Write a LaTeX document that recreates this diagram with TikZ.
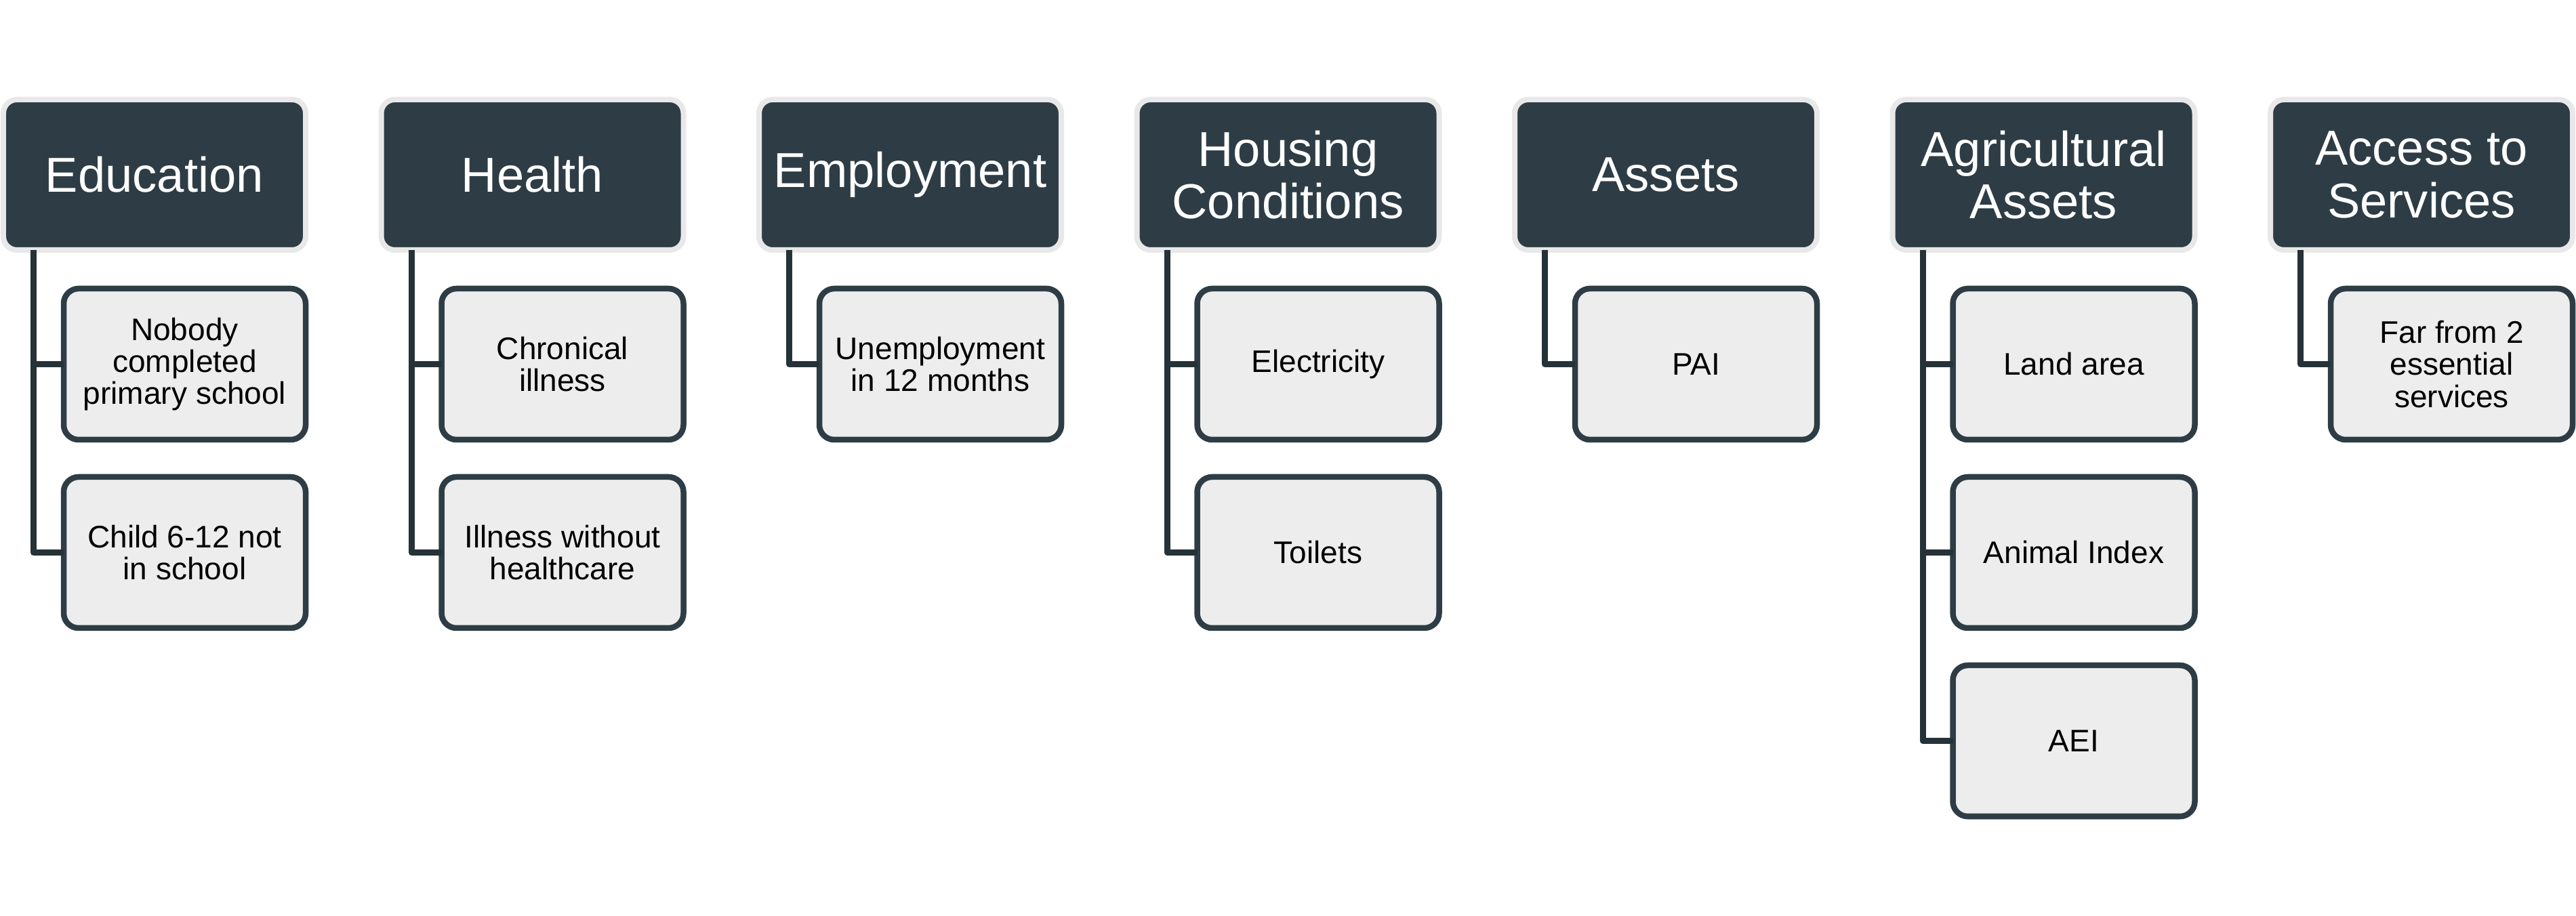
\documentclass[tikz,border=0pt]{standalone}
\usepackage{fontspec}
\setmainfont{Liberation Sans}
\usetikzlibrary{positioning}
\definecolor{slate}{HTML}{2E3D45}
\definecolor{slatedark}{HTML}{253238}
\definecolor{paleline}{HTML}{E8E8E8}
\definecolor{palefill}{HTML}{EDEDED}

\begin{document}
\begin{tikzpicture}[
                  head/.style={draw=paleline, line width=0.08cm, fill=slate, rounded corners=0.2cm,
                               text=white, font=\fontsize{20.6}{22}\selectfont, align=center,
                               minimum width=4.46cm, minimum height=2.22cm, inner sep=0pt},
                  item/.style={draw=slate, line width=0.085cm, fill=palefill, rounded corners=0.22cm,
                               font=\fontsize{13.1}{13.4}\selectfont, align=center,
                               minimum width=3.57cm, minimum height=2.23cm, inner sep=0pt},
                  link/.style={draw=slatedark, line width=0.09cm, line join=round},
                  node distance=0.55cm and 1.115cm,
                  every node/.append style={outer sep=0pt},
            ]
            \useasboundingbox (0,0) rectangle (38.01,-13.52);

            % Top row: dimensions
            \node[head] (edu) at (2.28,-2.58) {Education};
            \node[head, right=of edu] (hlth) {Health};
            \node[head, right=of hlth] (emp) {Employment};
            \node[head, right=of emp] (hous) {Housing\\Conditions};
            \node[head, right=of hous] (asset) {Assets};
            \node[head, right=of asset] (agri) {Agricultural\\Assets};
            \node[head, right=of agri] (serv) {Access to\\Services};

            % Indicators under each dimension
            \node[item, below left=0.57cm and 0cm of edu.south east] (edu1) {Nobody\\completed\\primary school};
            \node[item, below=of edu1] (edu2) {Child 6-12 not\\in school};

            \node[item, below left=0.57cm and 0cm of hlth.south east] (hlth1) {Chronical\\illness};
            \node[item, below=of hlth1] (hlth2) {Illness without\\healthcare};

            \node[item, below left=0.57cm and 0cm of emp.south east] (emp1) {Unemployment\\in 12 months};

            \node[item, below left=0.57cm and 0cm of hous.south east] (hous1) {Electricity};
            \node[item, below=of hous1] (hous2) {Toilets};

            \node[item, below left=0.57cm and 0cm of asset.south east] (asset1) {PAI};

            \node[item, below left=0.57cm and 0cm of agri.south east] (agri1) {Land area};
            \node[item, below=of agri1] (agri2) {Animal Index};
            \node[item, below=of agri2] (agri3) {AEI};

            \node[item, below left=0.57cm and 0cm of serv.south east] (serv1) {Far from 2\\essential\\services};

            % Connectors
            \draw[link] ([xshift=0.445cm]edu.south west) |- (edu1.west);
            \draw[link] ([xshift=0.445cm]edu.south west) |- (edu2.west);
            \draw[link] ([xshift=0.445cm]hlth.south west) |- (hlth1.west);
            \draw[link] ([xshift=0.445cm]hlth.south west) |- (hlth2.west);
            \draw[link] ([xshift=0.445cm]emp.south west) |- (emp1.west);
            \draw[link] ([xshift=0.445cm]hous.south west) |- (hous1.west);
            \draw[link] ([xshift=0.445cm]hous.south west) |- (hous2.west);
            \draw[link] ([xshift=0.445cm]asset.south west) |- (asset1.west);
            \draw[link] ([xshift=0.445cm]agri.south west) |- (agri1.west);
            \draw[link] ([xshift=0.445cm]agri.south west) |- (agri2.west);
            \draw[link] ([xshift=0.445cm]agri.south west) |- (agri3.west);
            \draw[link] ([xshift=0.445cm]serv.south west) |- (serv1.west);

      \end{tikzpicture}
\end{document}
